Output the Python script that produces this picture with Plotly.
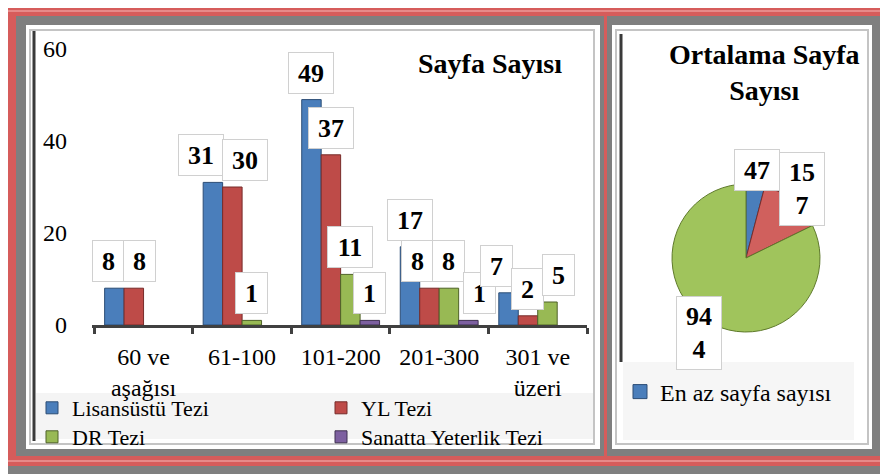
import math
import plotly.graph_objects as go

# ---------------- data ----------------
categories = ["60 ve<br>aşağısı", "61-100", "101-200", "201-300", "301 ve<br>üzeri"]
lisansustu = [8, 31, 49, 17, 7]
yl_tezi = [8, 30, 37, 8, 2]
dr_tezi = [None, 1, 11, 8, 5]
sanatta = [None, None, 1, 1, None]
series_names = ["Lisansüstü Tezi", "YL Tezi", "DR Tezi", "Sanatta Yeterlik Tezi"]

pie_labels = ["En az sayfa sayısı", "Ortalama sayfa sayısı", "En fazla sayfa sayısı"]
pie_values = [47, 157, 944]

y_ticks = [0, 20, 40, 60]

# ---------------- style ----------------
OFF = 8                      # page body margin compensation
W, H = 888 - OFF, 474 - OFF  # figure size
FONT = "Liberation Serif"
colors = ["#4a7ebb", "#be4b48", "#98b954", "#7d60a0"]
edge_colors = ["#2c4d75", "#772c2a", "#4f6228", "#3f3151"]
legend_of_series = ["legend", "legend", "legend3", "legend3"]
pie_colors = ["#4a7ebb", "#d0605d", "#a0c45c"]
pie_edges = ["#2c4d75", "#772c2a", "#5f7a2c"]

X0, X1 = 92, 587     # bar plot area (pixels)
Y0, Y1 = 325, 49
Y_MAX = 60
BARGAP = 0.21
DIGIT_W, LABEL_H, PAD = 13, 30, 5


def px(x):
    return (x - OFF) / W


def py(y):
    return 1 - (y - OFF) / H


fig = go.Figure()

all_series = [lisansustu, yl_tezi, dr_tezi, sanatta]
for i, vals in enumerate(all_series):
    fig.add_trace(go.Bar(
        x=categories, y=vals, name=series_names[i],
        marker=dict(color=colors[i], line=dict(color=edge_colors[i], width=1)),
        legend=legend_of_series[i],
    ))

# pie chart
fig.add_trace(go.Pie(
    labels=pie_labels, values=pie_values, sort=False, direction="clockwise",
    rotation=0, textinfo="none", showlegend=False,
    marker=dict(colors=pie_colors, line=dict(color=pie_edges, width=1)),
    domain=dict(x=[px(672), px(820)], y=[py(333), py(183)]),
))

# legend-only entry for pie legend
fig.add_trace(go.Scatter(
    x=[None], y=[None], mode="markers", name=pie_labels[0], legend="legend2",
    marker=dict(symbol="square", size=14, color=pie_colors[0],
                line=dict(color=pie_edges[0], width=1)),
))

# ---------------- frame shapes ----------------
shapes = []


def rect(x0, y0, x1, y1, fill, line=None, lw=0, layer="below"):
    shapes.append(dict(type="rect", xref="paper", yref="paper",
                       x0=px(x0), x1=px(x1), y0=py(y1), y1=py(y0),
                       fillcolor=fill, layer=layer,
                       line=dict(width=lw, color=line if line else fill)))


def vline(x, y0, y1, color, w):
    shapes.append(dict(type="line", xref="paper", yref="paper",
                       x0=px(x), x1=px(x), y0=py(y1), y1=py(y0),
                       line=dict(color=color, width=w), layer="below"))


def hline(y, x0, x1, color, w):
    shapes.append(dict(type="line", xref="paper", yref="paper",
                       x0=px(x0), x1=px(x1), y0=py(y), y1=py(y),
                       line=dict(color=color, width=w), layer="below"))


rect(8, 8, 886, 466, "#d65c5b")
hline(11, 8, 886, "#e68a89", 2)
hline(461, 8, 886, "#e68a89", 2)
rect(16, 16, 880, 456, "#7f7f7f")
rect(604, 16, 607, 456, "#d65c5b")
# left panel
rect(26, 25, 600, 449, "#ffffff")
rect(30, 30, 594, 444, "#ffffff", "#c4c4c4", 2)
vline(34, 31, 441, "#3a3a3a", 3)
rect(36, 393, 593, 439, "#f4f4f4")
# right panel
rect(612, 25, 872, 449, "#ffffff")
rect(616, 30, 868, 444, "#ffffff", "#c4c4c4", 2)
vline(621, 34, 362, "#3a3a3a", 3)
rect(623, 362, 854, 440, "#f6f6f6")

# ---------------- annotations ----------------
annotations = []


def boxed(text, nchar, nlines=1, **kw):
    base = dict(text=text, showarrow=False, bgcolor="#ffffff",
                bordercolor="#d0d0d0", borderwidth=1, borderpad=PAD,
                width=DIGIT_W * nchar + 8, height=LABEL_H * nlines + (nlines - 1) * 2,
                align="center", valign="middle",
                font=dict(family=FONT, size=26, color="#000000"))
    base.update(kw)
    annotations.append(base)


# bar data labels, pushed apart sideways where boxes would collide
ncat = len(categories)
cat_w = (X1 - X0) / ncat
bar_w = cat_w * (1 - BARGAP) / len(all_series)
unit = (Y0 - Y1) / Y_MAX
box_h = LABEL_H + 2 * PAD + 2
for ci, c in enumerate(categories):
    labels = []
    for i, vals in enumerate(all_series):
        v = vals[ci]
        if not v:
            continue
        base_off = (i - (len(all_series) - 1) / 2) * bar_w
        wbox = DIGIT_W * len(str(v)) + 8 + 2 * PAD + 2
        labels.append(dict(i=i, v=v, off=base_off, w=wbox, top=v * unit))
    for _ in range(60):
        for a, b in zip(labels, labels[1:]):
            if abs(a["top"] - b["top"]) < box_h - 4:
                need = (a["w"] + b["w"]) / 2 - 2
                gap = b["off"] - a["off"]
                if gap < need:
                    d = (need - gap) / 2
                    a["off"] -= d
                    b["off"] += d
    for lb in labels:
        boxed(f"<b>{lb['v']}</b>", len(str(lb["v"])), xref="x", yref="y",
              x=c, y=lb["v"], xanchor="center", yanchor="bottom",
              xshift=lb["off"], yshift=6)

# pie labels
total = sum(pie_values)
cx, cy, r = 746, 258, 74
cum = 0
for v in pie_values:
    mid = (cum + v / 2) / total * 2 * math.pi
    cum += v
    s = str(v)
    parts = [s[k:k + 2] for k in range(0, len(s), 2)]
    lx = cx + 1.2 * r * math.sin(mid)
    ly = cy - 1.2 * r * math.cos(mid)
    boxed("<b>" + "<br>".join(parts) + "</b>", max(len(p) for p in parts), len(parts),
          xref="paper", yref="paper", x=px(lx), y=py(ly),
          xanchor="center", yanchor="middle")

# titles
annotations.append(dict(text="<b>Sayfa Sayısı</b>", xref="paper", yref="paper",
                        x=px(490), y=py(63), xanchor="center", yanchor="middle",
                        showarrow=False, font=dict(family=FONT, size=28, color="#000")))
annotations.append(dict(text="<b>Ortalama Sayfa<br>Sayısı</b>", xref="paper", yref="paper",
                        x=px(764), y=py(72), xanchor="center", yanchor="middle",
                        showarrow=False, font=dict(family=FONT, size=28, color="#000")))

legend_common = dict(orientation="h", xanchor="left", yanchor="middle",
                     entrywidth=244, entrywidthmode="pixels", bgcolor="rgba(0,0,0,0)",
                     font=dict(family=FONT, size=22, color="#000"), itemwidth=30)

fig.update_layout(
    width=W, height=H, autosize=False,
    margin=dict(l=0, r=0, t=0, b=0, pad=0, autoexpand=False),
    paper_bgcolor="#7f7f7f", plot_bgcolor="rgba(0,0,0,0)",
    font=dict(family=FONT, size=24, color="#000000"),
    barmode="group", bargap=BARGAP, bargroupgap=0,
    shapes=shapes, annotations=annotations,
    xaxis=dict(domain=[px(X0), px(X1)], showgrid=False, zeroline=False,
               showline=True, linecolor="#404040", linewidth=3,
               ticks="outside", tickson="boundaries", ticklen=6, tickwidth=3,
               tickcolor="#404040", ticklabelstandoff=8,
               tickfont=dict(family=FONT, size=24, color="#000"),
               automargin=False, fixedrange=True),
    yaxis=dict(domain=[py(Y0), py(Y1)], range=[0, Y_MAX], tickvals=y_ticks,
               showgrid=False, zeroline=False, showline=False,
               ticks="", ticklabelstandoff=24,
               tickfont=dict(family=FONT, size=24, color="#000"),
               automargin=False, fixedrange=True),
    legend=dict(x=px(32), y=py(408), **legend_common),
    legend3=dict(x=px(32), y=py(437), **legend_common),
    legend2=dict(x=px(620), y=py(392), xanchor="left", yanchor="middle",
                 bgcolor="rgba(0,0,0,0)", font=dict(family=FONT, size=24, color="#000"),
                 itemwidth=30),
    showlegend=True,
)

fig.write_html("out.html")
